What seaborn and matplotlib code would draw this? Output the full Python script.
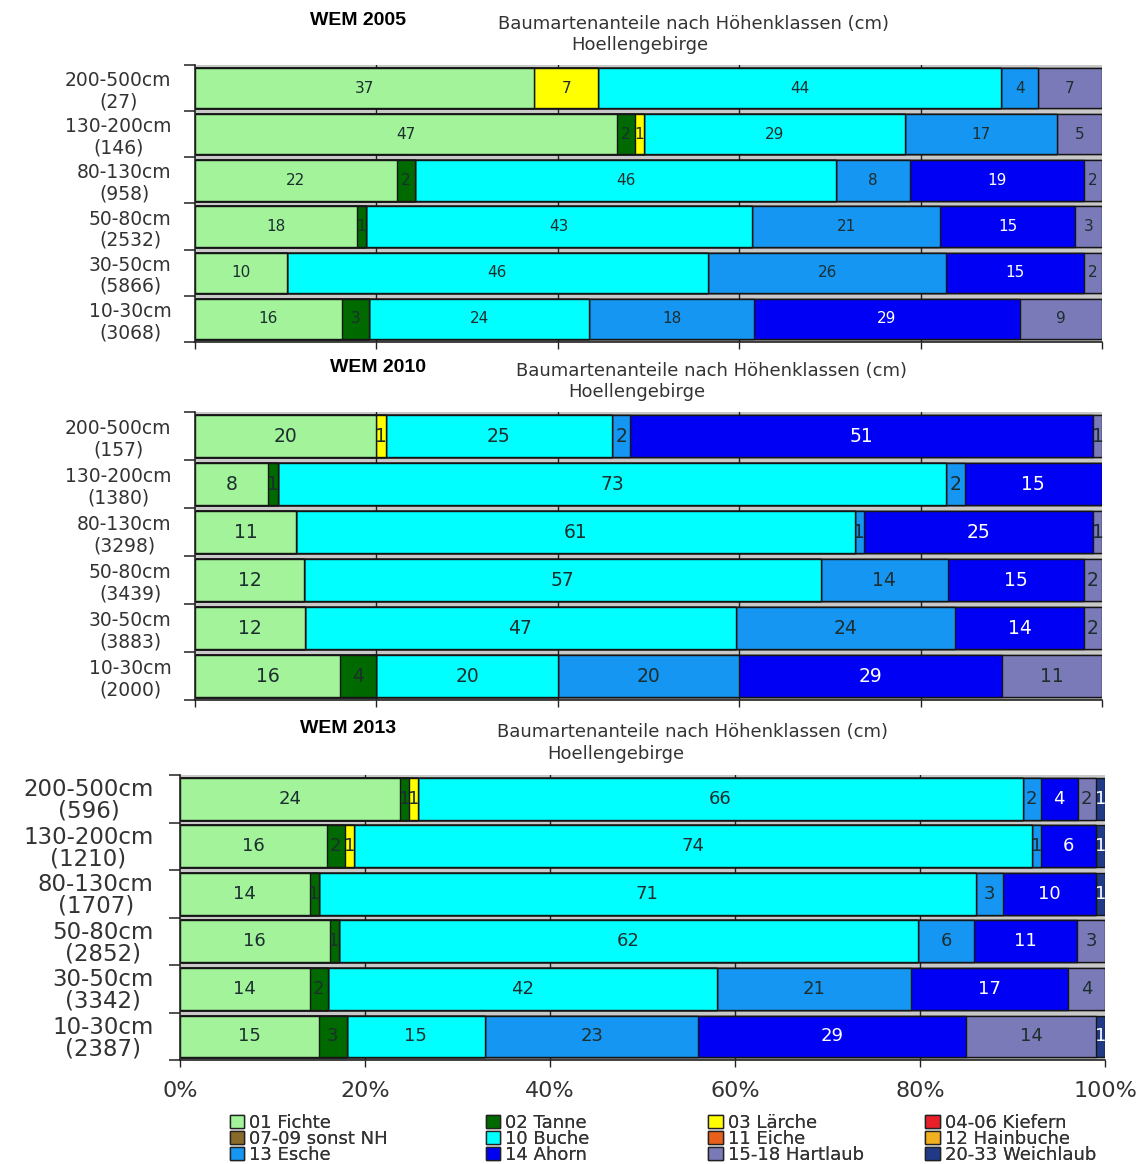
import numpy as np
import pandas as pd
import matplotlib
matplotlib.use("Agg")
import matplotlib.pyplot as plt
from matplotlib.patches import Patch
import seaborn as sns

# Height classes (top to bottom) and the tree species in stacking order
klassen = ["200-500cm", "130-200cm", "80-130cm", "50-80cm", "30-50cm", "10-30cm"]
arten = ["01 Fichte", "02 Tanne", "03 Lärche", "04-06 Kiefern", "07-09 sonst NH",
         "10 Buche", "11 Eiche", "12 Hainbuche", "13 Esche", "14 Ahorn",
         "15-18 Hartlaub", "20-33 Weichlaub"]
farben = ["#a2f39a", "#006a00", "#ffff00", "#e8202a", "#8a6a2a",
          "#00ffff", "#e8601a", "#f0b020", "#1596f2", "#0000f5",
          "#7a7ab8", "#203a88"]

# Number of plants per height class
n_2005 = [27, 146, 958, 2532, 5866, 3068]
n_2010 = [157, 1380, 3298, 3439, 3883, 2000]
n_2013 = [596, 1210, 1707, 2852, 3342, 2387]

# Species shares in percent, one row per height class, columns follow `arten`
anteile_2005 = [
    [37, 0, 7, 0, 0, 44, 0, 0, 4, 0, 7, 0],
    [47, 2, 1, 0, 0, 29, 0, 0, 17, 0, 5, 0],
    [22, 2, 0, 0, 0, 46, 0, 0, 8, 19, 2, 0],
    [18, 1, 0, 0, 0, 43, 0, 0, 21, 15, 3, 0],
    [10, 0, 0, 0, 0, 46, 0, 0, 26, 15, 2, 0],
    [16, 3, 0, 0, 0, 24, 0, 0, 18, 29, 9, 0],
]
anteile_2010 = [
    [20, 0, 1, 0, 0, 25, 0, 0, 2, 51, 1, 0],
    [8, 1, 0, 0, 0, 73, 0, 0, 2, 15, 0, 0],
    [11, 0, 0, 0, 0, 61, 0, 0, 1, 25, 1, 0],
    [12, 0, 0, 0, 0, 57, 0, 0, 14, 15, 2, 0],
    [12, 0, 0, 0, 0, 47, 0, 0, 24, 14, 2, 0],
    [16, 4, 0, 0, 0, 20, 0, 0, 20, 29, 11, 0],
]
anteile_2013 = [
    [24, 1, 1, 0, 0, 66, 0, 0, 2, 4, 2, 1],
    [16, 2, 1, 0, 0, 74, 0, 0, 1, 6, 0, 1],
    [14, 1, 0, 0, 0, 71, 0, 0, 3, 10, 0, 1],
    [16, 1, 0, 0, 0, 62, 0, 0, 6, 11, 3, 0],
    [14, 2, 0, 0, 0, 42, 0, 0, 21, 17, 4, 0],
    [15, 3, 0, 0, 0, 15, 0, 0, 23, 29, 14, 1],
]

titel_1 = "Baumartenanteile nach Höhenklassen (cm)"
titel_2 = "Hoellengebirge"
x_ticks = [0, 20, 40, 60, 80, 100]

sns.set_theme(style="white")
plt.rcParams["font.family"] = ["DejaVu Sans"]

fig = plt.figure(figsize=(11.48, 11.64), dpi=100)
fig.patch.set_facecolor("white")

panels = [
    # (year, n, shares, axes rect, ylabel size, line spacing, value size, show x labels, titles)
    ("WEM 2005", n_2005, anteile_2005, [0.1699, 0.7062, 0.7901, 0.2380], 13.5, 1.15, 11, False,
     (0.312, 0.982), (0.6045, 0.979), (0.5575, 0.961)),
    ("WEM 2010", n_2010, anteile_2010, [0.1699, 0.3986, 0.7901, 0.2474], 13.5, 1.15, 13.5, False,
     (0.329, 0.684), (0.620, 0.681), (0.555, 0.663)),
    ("WEM 2013", n_2013, anteile_2013, [0.1568, 0.0893, 0.8058, 0.2449], 16.5, 0.92, 13, True,
     (0.303, 0.374), (0.6035, 0.371), (0.5365, 0.352)),
]

for (jahr, n, anteile, rect, ysize, lsp, vsize, xlab, p_jahr, p_t1, p_t2) in panels:
    ax = fig.add_axes(rect)
    ax.set_facecolor("#c9c9c9")
    werte = np.array(anteile, dtype=float)
    prozent = werte / werte.sum(axis=1, keepdims=True) * 100.0
    kum = np.cumsum(prozent, axis=1)
    labels = [f"{k}\n({c})" for k, c in zip(klassen, n)]

    # Vertical gridlines sit behind the bars and show only in the gaps
    ax.set_axisbelow(True)
    for gx in x_ticks[1:-1]:
        ax.axvline(gx, color="#222222", lw=1.0, zorder=0)

    # Stacked bars: cumulative extents drawn from the last species to the first
    for j in range(len(arten) - 1, -1, -1):
        df = pd.DataFrame({"klasse": labels, "ende": kum[:, j]})
        sns.barplot(data=df, x="ende", y="klasse", order=labels, orient="y",
                    color=farben[j], saturation=1, width=0.875, errorbar=None,
                    edgecolor="#151515", linewidth=1.0, ax=ax)

    # Value labels in the middle of each segment
    for i in range(len(klassen)):
        for j in range(len(arten)):
            v = anteile[i][j]
            if v <= 0:
                continue
            mitte = kum[i, j] - prozent[i, j] / 2
            farbe = "white" if arten[j] in ("14 Ahorn", "20-33 Weichlaub") else "#1c2e2e"
            ax.text(mitte, i, f"{v}", ha="center", va="center", fontsize=vsize,
                    color=farbe, zorder=5)

    ax.set_xlim(0, 100)
    ax.set_ylim(len(klassen) - 0.5, -0.5)
    ax.set_xticks(x_ticks)
    ax.set_xlabel("")
    ax.set_ylabel("")
    ax.tick_params(axis="x", direction="out", length=5, width=1, colors="#222222",
                   labelsize=16, labelcolor="#333333", pad=10, bottom=True)
    if xlab:
        ax.set_xticklabels([f"{t}%" for t in x_ticks])
    else:
        ax.set_xticklabels([])
    ax.set_yticks(range(len(klassen)))
    ax.set_yticklabels(labels, fontsize=ysize, color="#333333",
                       multialignment="center", linespacing=lsp)
    ax.tick_params(axis="y", length=0, pad=17 if not xlab else 19)
    ax.set_yticks(np.arange(-0.5, len(klassen)), minor=True)
    ax.tick_params(axis="y", which="minor", direction="out", length=8, width=1.2,
                   colors="#333333", left=True)
    for side in ("top", "right"):
        ax.spines[side].set_visible(False)
    for side in ("left", "bottom"):
        ax.spines[side].set_color("#222222")
        ax.spines[side].set_linewidth(1.2)

    fig.text(*p_jahr, jahr, ha="center", va="center", fontsize=14,
             fontweight="bold", family="Liberation Sans", color="black")
    fig.text(*p_t1, titel_1, ha="center", va="center", fontsize=13, color="#333333")
    fig.text(*p_t2, titel_2, ha="center", va="center", fontsize=13, color="#333333")

# Legend: four columns of three entries each, read row by row
handles = [Patch(facecolor=c, edgecolor="#222222", label=a) for a, c in zip(arten, farben)]
ncol = 4
spalten_x = [0.200, 0.423, 0.617, 0.806]
for c in range(ncol):
    idx = [c, c + ncol, c + 2 * ncol]
    leg = fig.legend([handles[k] for k in idx], [arten[k] for k in idx],
                     loc="upper left", bbox_to_anchor=(spalten_x[c], 0.043), ncol=1,
                     frameon=False, fontsize=13, handlelength=0.8, handleheight=0.7,
                     handletextpad=0.3, labelspacing=-0.12, borderpad=0,
                     borderaxespad=0, labelcolor="#333333")
    fig.add_artist(leg)

fig.savefig("out.png", dpi=100, facecolor="white")
